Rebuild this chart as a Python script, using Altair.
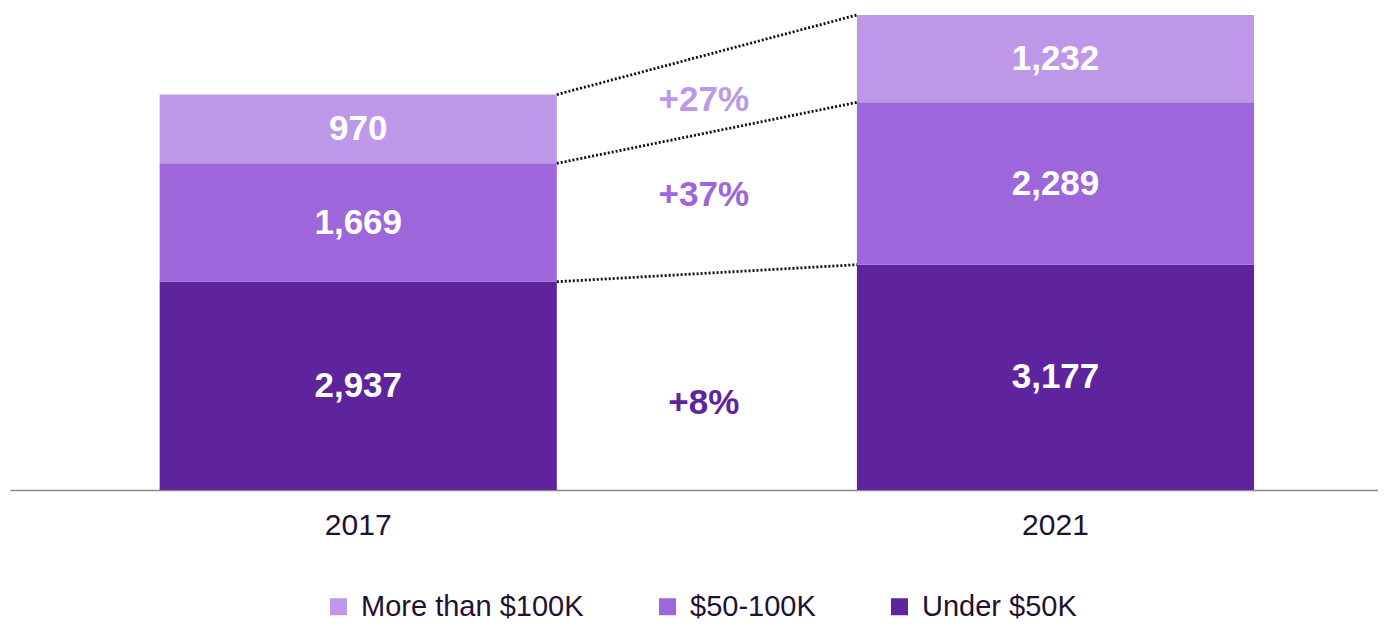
import altair as alt
import pandas as pd

years = ["2017", "2021"]
categories = ["Under $50K", "$50-100K", "More than $100K"]
values_2017 = [2937, 1669, 970]
values_2021 = [3177, 2289, 1232]
cat_colors = ["#5E249E", "#9E66DB", "#BE98E8"]
legend_order = ["More than $100K", "$50-100K", "Under $50K"]

FONT = "Liberation Sans, Arial, sans-serif"
TEXT_COLOR = "#1E1233"

# ---- build tables from the lists ----
rows = []
for year, vals in zip(years, [values_2017, values_2021]):
    cum = 0
    for cat, v in zip(categories, vals):
        rows.append(dict(year=year, category=cat, value=v, start=cum,
                         end=cum + v, mid=cum + v / 2, label=f"{v:,}"))
        cum += v
bars_df = pd.DataFrame(rows)

conn_rows = []
pct_rows = []
for cat in categories:
    a = bars_df[(bars_df.year == years[0]) & (bars_df.category == cat)].iloc[0]
    b = bars_df[(bars_df.year == years[1]) & (bars_df.category == cat)].iloc[0]
    conn_rows.append(dict(category=cat, y_from=years[0], y_to=years[1],
                          v1=a.end, v2=b.end))
    pct = round((b.value / a.value - 1) * 100)
    pct_rows.append(dict(category=cat, year=years[0], y=(a.mid + b.mid) / 2,
                         label=f"+{pct}%"))
conn_df = pd.DataFrame(conn_rows)
pct_df = pd.DataFrame(pct_rows)

ymax = bars_df.groupby("year")["value"].sum().max()

xscale = alt.Scale(domain=years, paddingInner=0.4304, paddingOuter=0.1962, align=0.547)
yscale = alt.Scale(domain=[0, ymax], nice=False, zero=True)
cscale = alt.Scale(domain=legend_order, range=[cat_colors[2], cat_colors[1], cat_colors[0]])

xaxis = alt.Axis(labelAngle=0, ticks=False, tickSize=0, labelPadding=20,
                 labelFontSize=30, labelFont=FONT, labelColor=TEXT_COLOR,
                 domainColor="#8A8A8A", domainWidth=1.5, grid=False, title=None)

bars = alt.Chart(bars_df).mark_bar().encode(
    x=alt.X("year:N", scale=xscale, axis=xaxis),
    y=alt.Y("start:Q", scale=yscale, axis=None),
    y2="end:Q",
    color=alt.Color("category:N", scale=cscale, title=None,
                    legend=alt.Legend(orient="none", legendX=314, legendY=577,
                                      direction="horizontal", symbolType="square",
                                      symbolSize=289, symbolStrokeWidth=0,
                                      labelFontSize=29, labelFont=FONT,
                                      labelColor=TEXT_COLOR, labelOffset=8,
                                      columnPadding=69, labelLimit=400, padding=0)),
)

bar_labels = alt.Chart(bars_df).mark_text(
    font=FONT, fontSize=35, fontWeight="bold", color="white", baseline="middle"
).encode(
    x=alt.X("year:N", scale=xscale, axis=xaxis),
    y=alt.Y("mid:Q", scale=yscale, axis=None),
    text="label:N",
)

rules = alt.Chart(conn_df).mark_rule(
    color="#0D0A1A", strokeWidth=2.8, strokeDash=[2, 2]
).encode(
    x=alt.X("y_from:N", scale=xscale, axis=xaxis, bandPosition=1),
    x2=alt.X2("y_to:N", bandPosition=0),
    y=alt.Y("v1:Q", scale=yscale, axis=None),
    y2="v2:Q",
)

pct_dy = {"More than $100K": 6, "$50-100K": -8, "Under $50K": 21}
pct_layers = []
for cat, col in zip(categories, cat_colors):
    pct_layers.append(
        alt.Chart(pct_df[pct_df.category == cat]).mark_text(
            font=FONT, fontSize=35, fontWeight="bold", color=col,
            baseline="middle", dx=147, dy=pct_dy[cat]
        ).encode(
            x=alt.X("year:N", scale=xscale, axis=xaxis, bandPosition=1),
            y=alt.Y("y:Q", scale=yscale, axis=None),
            text="label:N",
        )
    )

chart = alt.layer(bars, bar_labels, rules, *pct_layers).properties(
    width=1368, height=475,
    autosize=alt.AutoSizeParams(type="none"),
    padding={"left": 2, "top": 7, "right": 0, "bottom": 133},
).configure_view(stroke=None)

chart.save("out.html", embed_options={"renderer": "svg", "actions": False})
